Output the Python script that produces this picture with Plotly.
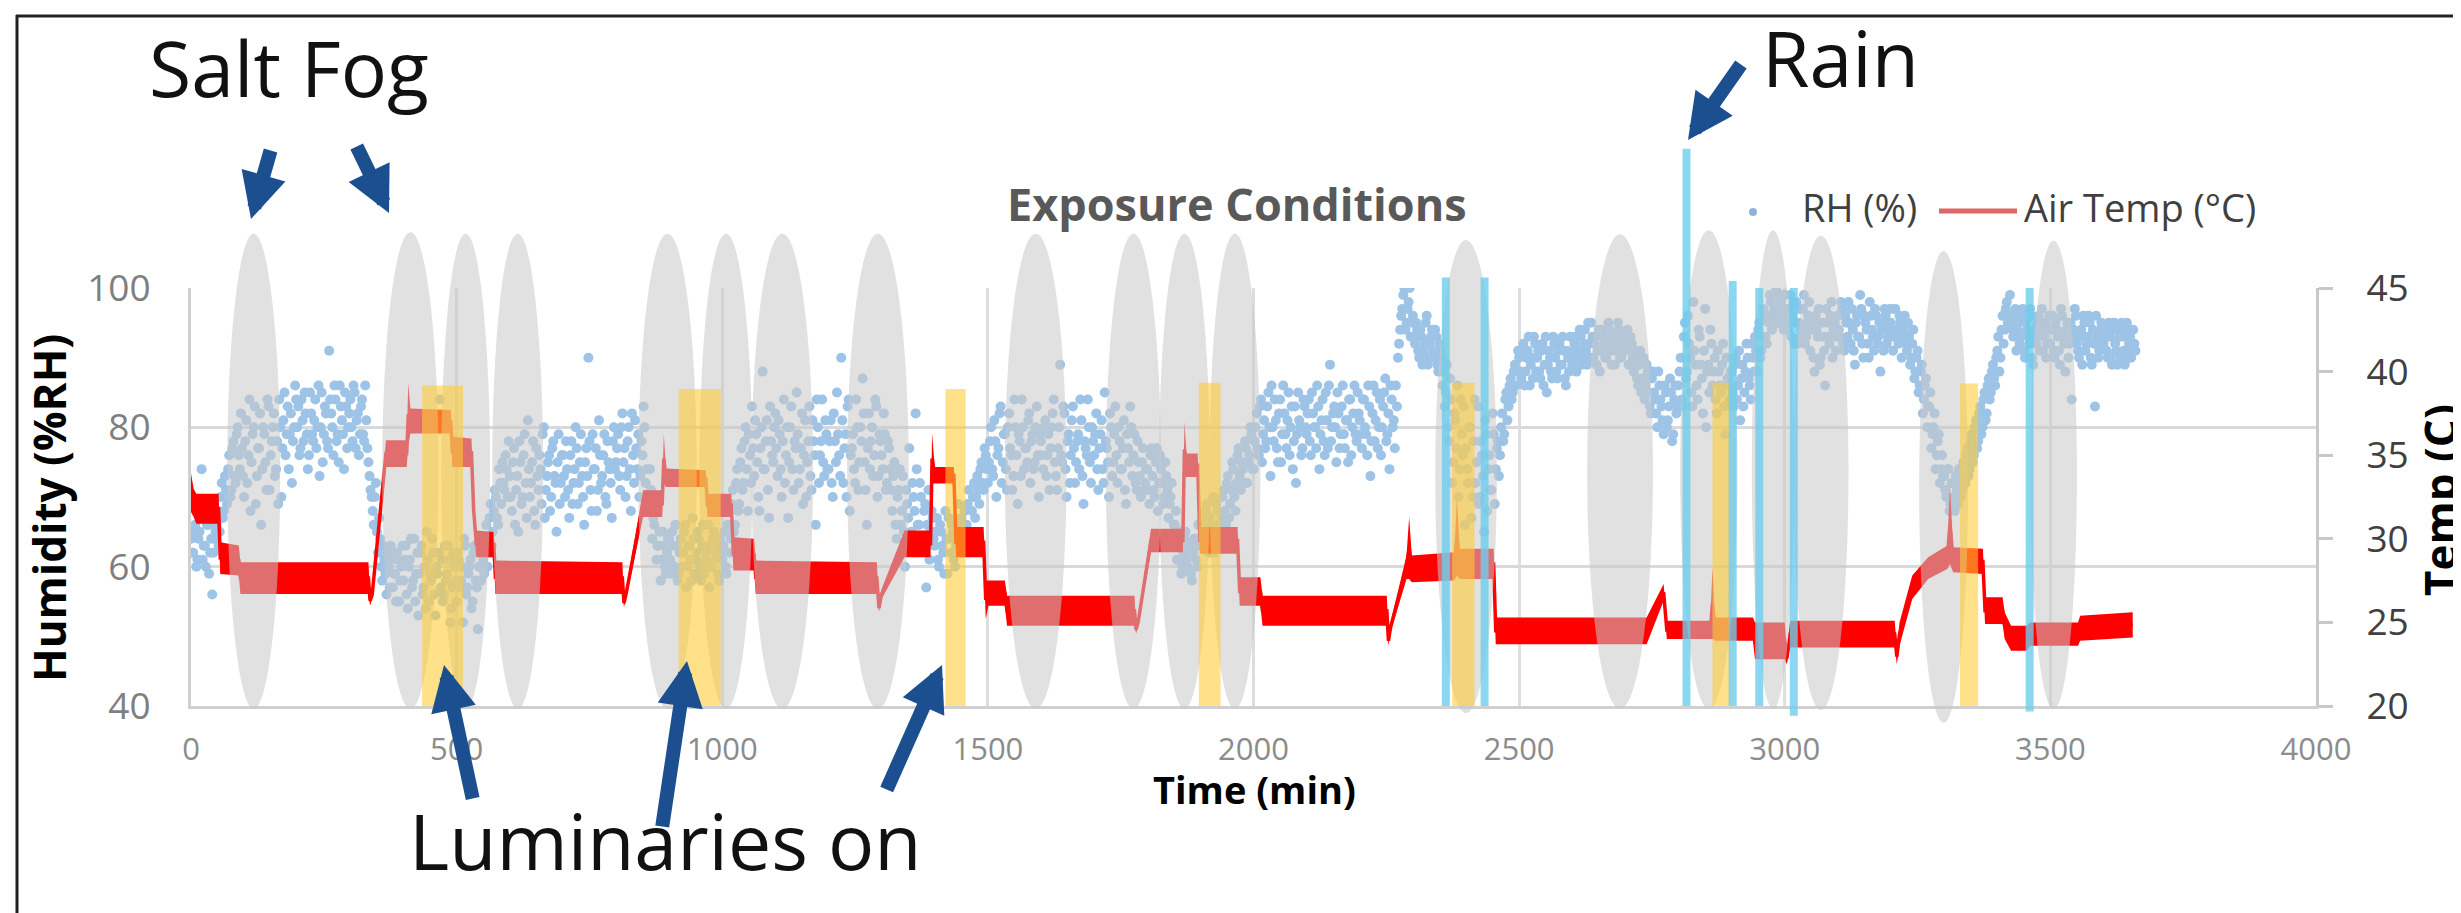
import plotly.graph_objects as go

# ------------------------------------------------------------------ data
# Relative humidity (%RH).  Logger writes every 2 minutes; readings are split in two
# interleaved lists: minutes 0,4,8,... and minutes 2,6,10,...
rh_values_a = [
    64, 62, 66, 61, 65, 74, 63, 60, 66, 62, 56, 64, 66, 63, 70, 67, 73, 69, 76, 71, 78, 72, 80, 74, 77,
    70, 81, 76, 68, 79, 83, 73, 77, 66, 80, 75, 84, 71, 78, 82, 74, 69, 80, 77, 85, 79, 74, 82, 78, 86,
    80, 76, 84, 78, 82, 74, 85, 79, 81, 77, 86, 80, 75, 83, 78, 91, 82, 76, 84, 79, 86, 81, 74, 83, 80,
    84, 78, 85, 81, 76, 83, 79, 86, 77, 73, 70, 66, 72, 62, 64, 58, 61, 56, 60, 63, 57, 59, 62, 55, 60,
    58, 63, 54, 61, 57, 64, 59, 53, 62, 56, 60, 65, 55, 58, 62, 53, 59, 84, 61, 56, 58, 63, 52, 57, 60,
    55, 61, 58, 52, 63, 57, 60, 54, 62, 58, 51, 60, 63, 59, 66, 62, 69, 65, 71, 67, 74, 69, 72, 76, 70,
    73, 68, 77, 71, 65, 75, 70, 79, 67, 74, 72, 78, 66, 73, 76, 69, 80, 71, 75, 68, 77, 73, 65, 79, 72,
    76, 70, 74, 67, 78, 72, 80, 69, 75, 73, 66, 77, 90, 71, 79, 74, 68, 81, 72, 76, 70, 78, 74, 67, 80,
    75, 79, 71, 82, 77, 73, 80, 68, 76, 81, 74, 70, 78, 83, 72, 68, 74, 64, 66, 61, 63, 58, 65, 60, 62,
    64, 59, 63, 66, 58, 62, 60, 65, 57, 63, 61, 67, 59, 62, 64, 58, 66, 61, 63, 57, 60, 65, 62, 59, 64,
    61, 65, 59, 68, 64, 71, 66, 74, 69, 77, 72, 80, 68, 76, 83, 73, 79, 70, 77, 88, 74, 81, 67, 78, 75,
    82, 73, 79, 70, 84, 76, 67, 80, 74, 78, 85, 72, 77, 69, 81, 75, 83, 71, 78, 66, 80, 76, 84, 73, 79,
    74, 81, 70, 78, 85, 76, 90, 72, 79, 83, 68, 77, 74, 84, 71, 80, 87, 75, 66, 82, 78, 73, 84, 70, 79,
    76, 82, 71, 78, 74, 68, 75, 64, 71, 66, 73, 60, 69, 77, 65, 70, 82, 66, 72, 63, 68, 57, 71, 65, 67,
    63, 67, 60, 65, 62, 68, 59, 64, 66, 61, 63, 69, 65, 62, 68, 66, 71, 64, 70, 67, 73, 69, 75, 71, 76,
    72, 78, 74, 81, 70, 77, 83, 75, 79, 71, 82, 76, 73, 80, 69, 78, 84, 74, 77, 81, 72, 79, 75, 83, 70,
    78, 74, 81, 76, 71, 80, 84, 73, 77, 89, 75, 82, 70, 79, 76, 83, 72, 78, 74, 81, 69, 77, 84, 75, 80,
    76, 82, 71, 79, 74, 85, 77, 70, 80, 75, 83, 72, 78, 74, 81, 69, 77, 83, 73, 79, 71, 75, 70, 77, 72,
    74, 69, 77, 71, 75, 68, 76, 72, 70, 73, 67, 70, 64, 66, 61, 63, 59, 62, 65, 60, 63, 58, 64, 61, 66,
    63, 67, 65, 69, 62, 66, 70, 64, 68, 65, 67, 71, 66, 73, 69, 75, 70, 72, 77, 71, 74, 78, 72, 76, 79,
    74, 80, 77, 83, 75, 81, 78, 85, 73, 80, 84, 77, 82, 75, 86, 79, 81, 76, 83, 78, 72, 85, 80, 77, 83,
    79, 84, 76, 82, 80, 86, 74, 81, 78, 85, 77, 89, 80, 83, 75, 82, 79, 86, 77, 81, 84, 76, 82, 79, 85,
    81, 77, 84, 79, 86, 73, 82, 78, 85, 80, 76, 83, 87, 79, 74, 84, 81, 86, 90, 94, 97, 100, 95, 98, 93,
    96, 92, 94, 90, 93, 91, 95, 89, 92, 94, 90, 93, 88, 91, 86, 83, 89, 78, 84, 75, 81, 86, 74, 79, 83,
    77, 72, 80, 70, 84, 75, 69, 78, 73, 81, 68, 76, 71, 79, 74, 78, 76, 82, 79, 85, 83, 87, 85, 89, 88,
    90, 87, 92, 88, 91, 86, 90, 93, 88, 91, 87, 92, 89, 85, 91, 88, 93, 90, 87, 92, 89, 91, 86, 90, 93,
    89, 92, 88, 91, 93, 90, 94, 89, 92, 95, 90, 93, 91, 88, 94, 92, 90, 95, 91, 93, 89, 92, 94, 90, 93,
    91, 94, 89, 92, 88, 90, 86, 91, 87, 84, 89, 85, 82, 88, 84, 80, 86, 83, 79, 85, 81, 87, 78, 84, 82,
    86, 90, 83, 95, 88, 92, 85, 98, 89, 84, 93, 87, 91, 80, 89, 94, 86, 90, 82, 88, 85, 92, 79, 87, 84,
    88, 83, 90, 86, 81, 89, 85, 92, 87, 84, 90, 93, 88, 95, 91, 97, 93, 96, 99, 94, 97, 100, 95, 98, 96,
    99, 95, 97, 93, 98, 95, 92, 97, 94, 99, 93, 96, 91, 95, 88, 94, 97, 90, 93, 86, 95, 92, 98, 94, 91,
    96, 93, 97, 91, 95, 98, 92, 94, 89, 96, 93, 97, 90, 95, 92, 98, 94, 91, 96, 93, 88, 95, 97, 92, 94,
    95, 91, 97, 93, 96, 90, 94, 92, 95, 89, 92, 87, 90, 85, 88, 82, 86, 80, 83, 77, 80, 74, 78, 72, 76,
    73, 70, 74, 69, 72, 68, 71, 74, 70, 75, 72, 77, 74, 79, 76, 81, 78, 83, 80, 85, 82, 87, 85, 89, 86,
    91, 88, 94, 92, 97, 95, 99, 94, 96, 91, 95, 93, 97, 90, 94, 92, 96, 89, 93, 95, 91, 97, 93, 90, 94,
    92, 96, 90, 94, 91, 97, 93, 88, 95, 92, 84, 94, 96, 91, 93, 89, 95, 92, 96, 90, 94, 83, 93, 91, 95,
    92, 94, 90, 93, 89, 95, 91, 94, 90, 93, 89, 95, 92, 90, 94, 91,
]
rh_values_b = [
    62, 65, 60, 64, 67, 61, 63, 66, 59, 64, 62, 65, 68, 65, 72, 68, 71, 74, 70, 77, 73, 79, 76, 82, 73,
    78, 72, 84, 75, 80, 69, 77, 82, 74, 79, 71, 83, 76, 80, 73, 78, 84, 70, 81, 76, 83, 79, 72, 80, 84,
    83, 77, 81, 85, 79, 76, 82, 78, 84, 80, 73, 85, 79, 82, 77, 84, 80, 86, 78, 75, 83, 79, 85, 77, 82,
    80, 86, 77, 82, 79, 84, 78, 81, 75, 71, 68, 70, 65, 67, 60, 63, 59, 62, 57, 61, 59, 55, 61, 58, 63,
    61, 56, 60, 64, 58, 55, 62, 59, 63, 57, 54, 61, 59, 64, 56, 60, 62, 57, 55, 63, 59, 61, 54, 62, 58,
    62, 57, 60, 64, 56, 59, 61, 55, 63, 57, 60, 58, 61, 64, 60, 67, 63, 68, 70, 66, 72, 75, 71, 74, 78,
    70, 75, 66, 73, 78, 69, 76, 72, 81, 70, 75, 68, 77, 71, 74, 79, 67, 73, 76, 70, 78, 72, 75, 69, 76,
    73, 78, 71, 76, 69, 74, 77, 72, 79, 70, 75, 73, 78, 68, 74, 77, 71, 76, 73, 79, 69, 75, 72, 78, 74,
    77, 73, 80, 75, 70, 78, 74, 82, 72, 77, 79, 73, 76, 80, 74, 70, 71, 67, 69, 63, 65, 61, 63, 59, 64,
    61, 65, 60, 63, 59, 64, 62, 66, 60, 63, 58, 64, 61, 65, 60, 63, 59, 62, 66, 60, 64, 61, 63, 58, 62,
    63, 60, 66, 62, 69, 65, 72, 68, 75, 71, 78, 74, 79, 72, 77, 81, 75, 68, 80, 74, 78, 71, 83, 76, 80,
    77, 81, 74, 78, 72, 80, 75, 83, 71, 77, 79, 74, 82, 76, 70, 78, 73, 81, 76, 84, 72, 78, 75, 81, 74,
    78, 72, 82, 75, 79, 73, 81, 77, 70, 84, 76, 79, 72, 80, 75, 78, 82, 71, 77, 74, 80, 76, 83, 73, 78,
    74, 79, 72, 77, 71, 73, 66, 70, 74, 68, 65, 71, 67, 63, 72, 68, 74, 66, 70, 64, 69, 66, 61, 68, 64,
    65, 61, 66, 63, 59, 64, 67, 62, 65, 60, 66, 64, 67, 63, 66, 69, 65, 68, 72, 70, 71, 74, 72, 77, 74,
    75, 80, 73, 78, 76, 82, 72, 79, 74, 80, 77, 71, 84, 76, 79, 73, 80, 77, 75, 82, 78, 74, 80, 76, 79,
    76, 80, 73, 79, 77, 82, 75, 71, 80, 76, 83, 74, 78, 72, 81, 77, 75, 79, 84, 73, 78, 76, 80, 72, 78,
    79, 74, 77, 81, 72, 78, 75, 82, 73, 79, 76, 80, 74, 77, 71, 79, 75, 80, 76, 72, 78, 73, 75, 71, 74,
    71, 76, 73, 70, 77, 72, 74, 69, 75, 71, 69, 72, 66, 68, 63, 65, 60, 64, 61, 63, 59, 62, 64, 60, 63,
    66, 64, 68, 63, 67, 65, 62, 69, 66, 63, 70, 68, 72, 67, 71, 74, 68, 76, 73, 75, 72, 77, 75, 80, 74,
    78, 82, 76, 84, 79, 77, 83, 80, 86, 78, 81, 75, 84, 79, 82, 77, 85, 80, 74, 83, 79, 81, 76, 84, 80,
    82, 78, 85, 80, 77, 83, 79, 84, 76, 81, 86, 78, 82, 80, 85, 77, 83, 79, 81, 75, 84, 80, 86, 78, 82,
    79, 84, 80, 76, 83, 78, 86, 81, 77, 84, 80, 85, 78, 82, 86, 80, 77, 83, 92, 96, 99, 94, 97, 100, 95,
    93, 95, 91, 94, 89, 92, 96, 90, 93, 91, 94, 89, 92, 90, 88, 85, 80, 87, 72, 82, 77, 70, 84, 76, 66,
    74, 80, 67, 78, 72, 83, 70, 76, 65, 79, 74, 71, 82, 69, 77, 73, 80, 78, 84, 81, 86, 84, 88, 86, 91,
    88, 91, 86, 90, 93, 89, 87, 92, 90, 88, 91, 86, 93, 89, 90, 87, 92, 88, 91, 89, 93, 87, 91, 88, 90,
    91, 93, 90, 94, 89, 92, 91, 95, 90, 93, 92, 89, 94, 91, 93, 90, 92, 94, 89, 93, 91, 95, 90, 92, 91,
    92, 89, 93, 90, 91, 87, 89, 85, 90, 86, 88, 83, 87, 85, 82, 88, 84, 81, 86, 80, 83, 85, 79, 86, 83,
    88, 84, 93, 87, 96, 90, 83, 91, 86, 94, 89, 82, 97, 88, 85, 92, 88, 84, 91, 86, 89, 83, 90, 86, 88,
    85, 89, 84, 91, 87, 83, 88, 90, 86, 92, 88, 91, 94, 90, 93, 96, 92, 95, 98, 96, 99, 95, 97, 99, 94,
    97, 94, 99, 96, 92, 98, 95, 93, 97, 92, 95, 98, 94, 90, 96, 93, 89, 95, 91, 97, 93, 96, 90, 95, 93,
    94, 98, 92, 96, 93, 95, 97, 91, 95, 93, 99, 92, 96, 94, 90, 96, 93, 97, 92, 95, 94, 91, 96, 93, 97,
    93, 97, 94, 92, 95, 93, 96, 91, 93, 90, 94, 88, 91, 86, 89, 84, 87, 83, 85, 79, 82, 76, 79, 74, 73,
    71, 74, 68, 72, 70, 73, 69, 72, 71, 73, 76, 73, 78, 75, 80, 77, 82, 79, 84, 81, 86, 84, 88, 87, 90,
    93, 90, 96, 94, 98, 96, 95, 93, 97, 94, 92, 96, 91, 95, 93, 97, 90, 94, 92, 96, 94, 91, 95, 92, 96,
    94, 91, 95, 93, 89, 96, 92, 94, 90, 95, 93, 97, 92, 90, 94, 96, 91, 93, 95, 89, 92, 96, 90, 94, 92,
    93, 91, 95, 90, 94, 92, 89, 93, 95, 91, 94, 90, 93, 91, 92,
]
rh_minutes_a = [4 * i for i in range(len(rh_values_a))]
rh_minutes_b = [4 * i + 2 for i in range(len(rh_values_b))]

# Air temperature: breakpoints of the noisy band (low / high edge, deg C)
temp_minutes = [
    0, 5, 10, 52, 55, 90, 93, 334, 337, 341,
    367, 406, 409, 413, 489, 492, 528, 532, 537, 570,
    573, 812, 815, 819, 851, 887, 890, 894, 969, 972,
    1017, 1021, 1060, 1063, 1291, 1295, 1300, 1343, 1392, 1395,
    1400, 1436, 1440, 1492, 1496, 1501, 1532, 1536, 1776, 1779,
    1783, 1807, 1867, 1870, 1874, 1895, 1899, 1970, 1974, 2013,
    2017, 2251, 2254, 2258, 2288, 2293, 2298, 2378, 2383, 2388,
    2452, 2456, 2740, 2772, 2778, 2860, 2864, 2869, 2940, 2944,
    3000, 3004, 3010, 3207, 3211, 3216, 3240, 3270, 3306, 3311,
    3317, 3373, 3377, 3410, 3414, 3426, 3455, 3462, 3552, 3556,
    3600, 3655,
]
temp_low_c = [
    31.6, 31.3, 30.9, 30.9, 27.9, 27.8, 26.7, 26.7, 26.0, 26.4,
    34.3, 34.3, 35.6, 36.3, 36.3, 34.3, 34.3, 31.0, 28.9, 28.9,
    26.7, 26.7, 25.9, 26.4, 31.3, 31.3, 33.3, 33.1, 33.1, 31.3,
    31.3, 28.1, 28.1, 26.7, 26.7, 25.6, 26.4, 28.9, 28.9, 33.3,
    33.3, 33.3, 28.9, 28.9, 25.2, 26.0, 26.0, 24.8, 24.8, 24.3,
    24.8, 29.2, 29.2, 33.7, 33.7, 33.7, 29.1, 29.1, 26.0, 26.0,
    24.8, 24.8, 23.6, 24.4, 27.6, 27.6, 27.4, 27.5, 27.8, 27.6,
    27.6, 23.7, 23.7, 26.3, 24.0, 24.0, 24.0, 23.9, 23.9, 22.8,
    22.8, 22.5, 23.5, 23.5, 22.5, 23.6, 26.4, 27.6, 28.2, 28.5,
    28.0, 27.9, 24.9, 24.9, 24.0, 23.3, 23.3, 23.6, 23.6, 23.9,
    24.0, 24.1,
]
temp_high_c = [
    33.9, 33.0, 32.7, 32.7, 29.8, 29.6, 28.6, 28.6, 26.6, 26.9,
    35.9, 35.9, 39.3, 37.8, 37.7, 36.1, 36.0, 32.5, 30.5, 30.4,
    28.7, 28.6, 26.4, 27.0, 32.9, 32.9, 36.3, 34.2, 34.1, 32.7,
    32.7, 30.1, 30.0, 28.7, 28.6, 26.1, 27.0, 30.5, 30.5, 36.3,
    34.3, 34.3, 30.7, 30.7, 27.5, 27.5, 27.5, 26.6, 26.6, 24.8,
    25.3, 30.6, 30.6, 37.0, 35.1, 35.1, 30.7, 30.7, 27.7, 27.7,
    26.6, 26.6, 24.2, 25.0, 29.0, 31.3, 29.0, 29.2, 32.5, 29.4,
    29.4, 25.3, 25.3, 27.3, 25.1, 25.1, 28.3, 25.3, 25.3, 25.0,
    25.0, 23.2, 25.1, 25.1, 23.4, 25.0, 27.8, 28.9, 29.6, 33.2,
    29.5, 29.4, 26.5, 26.5, 25.6, 24.8, 24.8, 25.0, 25.0, 25.4,
    25.5, 25.6,
]

# Salt-fog periods (grey ellipses): centre / half width in minutes, extent in %RH
fog_center_min = [118, 413, 517, 615, 897, 1007, 1113, 1293, 1590, 1774,
                  1870, 1965, 2400, 2690, 2857, 2978, 3068, 3299, 3506]
fog_halfwidth_min = [50, 53, 46, 48, 55, 50, 58, 58, 58, 52,
                     48, 48, 58, 62, 54, 40, 52, 46, 44]
fog_top_rh = [107.8, 108.0, 107.8, 107.8, 107.8, 107.8, 107.8, 107.8, 107.8, 107.8,
              107.8, 107.8, 106.9, 107.7, 108.3, 108.3, 107.5, 105.3, 106.8]
fog_bottom_rh = [39.6, 39.6, 39.6, 39.6, 39.6, 39.6, 39.6, 39.6, 39.6, 39.6,
                 39.6, 39.6, 39.0, 39.6, 39.6, 39.6, 39.4, 37.6, 39.6]

# Luminaries on (yellow bands)
lum_start_min = [435, 918, 1420, 1897, 2374, 2864, 3330]
lum_end_min = [512, 997, 1458, 1938, 2416, 2897, 3364]
lum_top_rh = [86.0, 85.5, 85.5, 86.4, 86.4, 86.4, 86.3]

# Rain events (cyan lines)
rain_min = [2362, 2435, 2815, 2902, 2952, 3017, 3461]
rain_top_rh = [101.5, 101.5, 120.0, 101.0, 100.0, 100.0, 100.0]
rain_bottom_rh = [40.0, 40.0, 40.0, 40.0, 40.0, 38.6, 39.2]

x_tick_vals = [0, 500, 1000, 1500, 2000, 2500, 3000, 3500, 4000]
rh_tick_vals = [40, 60, 80, 100]
temp_tick_vals = [20, 25, 30, 35, 40, 45]
X_RANGE = [0, 4000]
RH_RANGE = [40, 100]
T_RANGE = [20, 45]

# ------------------------------------------------------------------ layout geometry
W, H = 2461, 913
PL, PR, PT, PB = 183, 2308, 280, 698


def px(x):
    return (x - PL) / (PR - PL)


def py(y):
    return (PB - y) / (PB - PT)


def rh_paper(v):
    return (v - RH_RANGE[0]) / (RH_RANGE[1] - RH_RANGE[0])


FONT = "Open Sans"

fig = go.Figure()
fig.add_trace(go.Scatter(
    x=rh_minutes_a + rh_minutes_b, y=rh_values_a + rh_values_b, mode="markers",
    name="RH (%)", marker=dict(size=10, color="#9DC3E6", line=dict(width=0)),
    yaxis="y", hoverinfo="skip"))
temp_mid_c = [(a + b) / 2 for a, b in zip(temp_low_c, temp_high_c)]
fig.add_trace(go.Scatter(
    x=temp_minutes, y=temp_low_c, mode="lines", line=dict(width=0, color="#FF0000"),
    yaxis="y2", hoverinfo="skip"))
fig.add_trace(go.Scatter(
    x=temp_minutes, y=temp_high_c, mode="lines", line=dict(width=0, color="#FF0000"),
    fill="tonexty", fillcolor="#FF0000", yaxis="y2", hoverinfo="skip"))
fig.add_trace(go.Scatter(
    x=temp_minutes, y=temp_mid_c, mode="lines", name="Air Temp (°C)",
    line=dict(width=3.5, color="#FF0000"), yaxis="y2", hoverinfo="skip"))

shapes = []
for c, hw, top, bot in zip(fog_center_min, fog_halfwidth_min, fog_top_rh, fog_bottom_rh):
    shapes.append(dict(type="circle", xref="x", yref="paper", x0=c - hw, x1=c + hw,
                       y0=rh_paper(bot), y1=rh_paper(top),
                       fillcolor="rgba(200,200,200,0.55)", line=dict(width=0), layer="above"))
for s, e, top in zip(lum_start_min, lum_end_min, lum_top_rh):
    shapes.append(dict(type="rect", xref="x", yref="paper", x0=s, x1=e,
                       y0=rh_paper(RH_RANGE[0]), y1=rh_paper(top),
                       fillcolor="rgba(255,204,51,0.58)", line=dict(width=0), layer="above"))
for t, top, bot in zip(rain_min, rain_top_rh, rain_bottom_rh):
    shapes.append(dict(type="rect", xref="x", yref="paper", x0=t - 7.5, x1=t + 7.5,
                       y0=rh_paper(bot), y1=rh_paper(top),
                       fillcolor="rgba(110,205,235,0.8)", line=dict(width=0), layer="above"))
# legend symbols
shapes.append(dict(type="circle", xref="paper", yref="paper", x0=px(1741), x1=px(1749),
                   y0=py(208), y1=py(200), fillcolor="#8FB4DA", line=dict(width=0)))
shapes.append(dict(type="line", xref="paper", yref="paper", x0=px(1931), x1=px(2009),
                   y0=py(203), y1=py(203), line=dict(color="#E06666", width=5)))
# picture frame
shapes.append(dict(type="line", xref="paper", yref="paper", x0=px(9), x1=px(9),
                   y0=py(7), y1=py(913), line=dict(color="#222222", width=3)))
shapes.append(dict(type="line", xref="paper", yref="paper", x0=px(8), x1=px(2461),
                   y0=py(8), y1=py(8), line=dict(color="#222222", width=3)))

ann = []


def text(t, x, y, size, color="#111111", xanchor="left", bold=False, angle=0):
    ann.append(dict(text=f"<b>{t}</b>" if bold else t, xref="paper", yref="paper",
                    x=px(x), y=py(y), xanchor=xanchor, yanchor="middle", showarrow=False,
                    textangle=angle, font=dict(family=FONT, size=size, color=color)))


text("Salt Fog", 139, 60, 77)
text("Rain", 1752, 50, 77)
text("Luminaries on", 399, 832, 77)
text("Exposure Conditions", 1229, 195, 45, color="#595959", xanchor="center", bold=True)
text("RH (%)", 1792, 199, 38, color="#404040")
text("Air Temp (°C)", 2014, 199, 38, color="#404040")
text("Humidity (%RH)", 41, 500, 44, color="#000000", xanchor="center", bold=True, angle=-90)
text("Temp (C)", 2432, 492, 44, color="#000000", xanchor="center", bold=True, angle=-90)
text("Time (min)", 1246, 781, 38, color="#000000", xanchor="center", bold=True)

ARROW = "#1B4F8F"
for tip, tail in [((243, 211), (263, 141)), ((381, 205), (348, 137)),
                  ((1680, 132), (1734, 55)), ((436, 657), (465, 792)),
                  ((679, 653), (654, 820)), ((934, 657), (878, 783))]:
    ann.append(dict(text="", xref="paper", yref="paper", x=px(tip[0]), y=py(tip[1]),
                    ax=tail[0] - tip[0], ay=tail[1] - tip[1], axref="pixel", ayref="pixel",
                    showarrow=True, arrowhead=2, arrowsize=0.65, arrowwidth=14,
                    arrowcolor=ARROW, standoff=0))

fig.update_layout(
    width=W, height=H, autosize=False, template="none",
    margin=dict(l=PL, r=W - PR, t=PT, b=H - PB, pad=0),
    paper_bgcolor="white", plot_bgcolor="white", showlegend=False,
    font=dict(family=FONT, color="#404040"),
    xaxis=dict(range=X_RANGE, tickvals=x_tick_vals, ticktext=[str(v) for v in x_tick_vals],
               showgrid=True, gridcolor="#DEDEDE", gridwidth=2.5, showline=True,
               linecolor="#D0D0D0", linewidth=3, ticks="", zeroline=False, automargin=False,
               tickfont=dict(family=FONT, size=31, color="#8C8C8C"), ticklabelstandoff=14),
    yaxis=dict(range=RH_RANGE, tickvals=rh_tick_vals, showgrid=True, gridcolor="#D9D9D9",
               gridwidth=2.5, showline=True, linecolor="#D0D0D0", linewidth=3, ticks="",
               zeroline=False, automargin=False, ticklabelstandoff=30,
               tickfont=dict(family=FONT, size=37, color="#7F7F7F")),
    yaxis2=dict(range=T_RANGE, tickvals=temp_tick_vals, overlaying="y", side="right",
                showgrid=False, showline=True, linecolor="#C8C8C8", linewidth=3,
                ticks="outside", ticklen=14, tickwidth=2.5, tickcolor="#C8C8C8",
                zeroline=False, automargin=False, ticklabelstandoff=26,
                tickfont=dict(family=FONT, size=37, color="#404040")),
    shapes=shapes, annotations=ann,
)

fig.write_html("out.html")
